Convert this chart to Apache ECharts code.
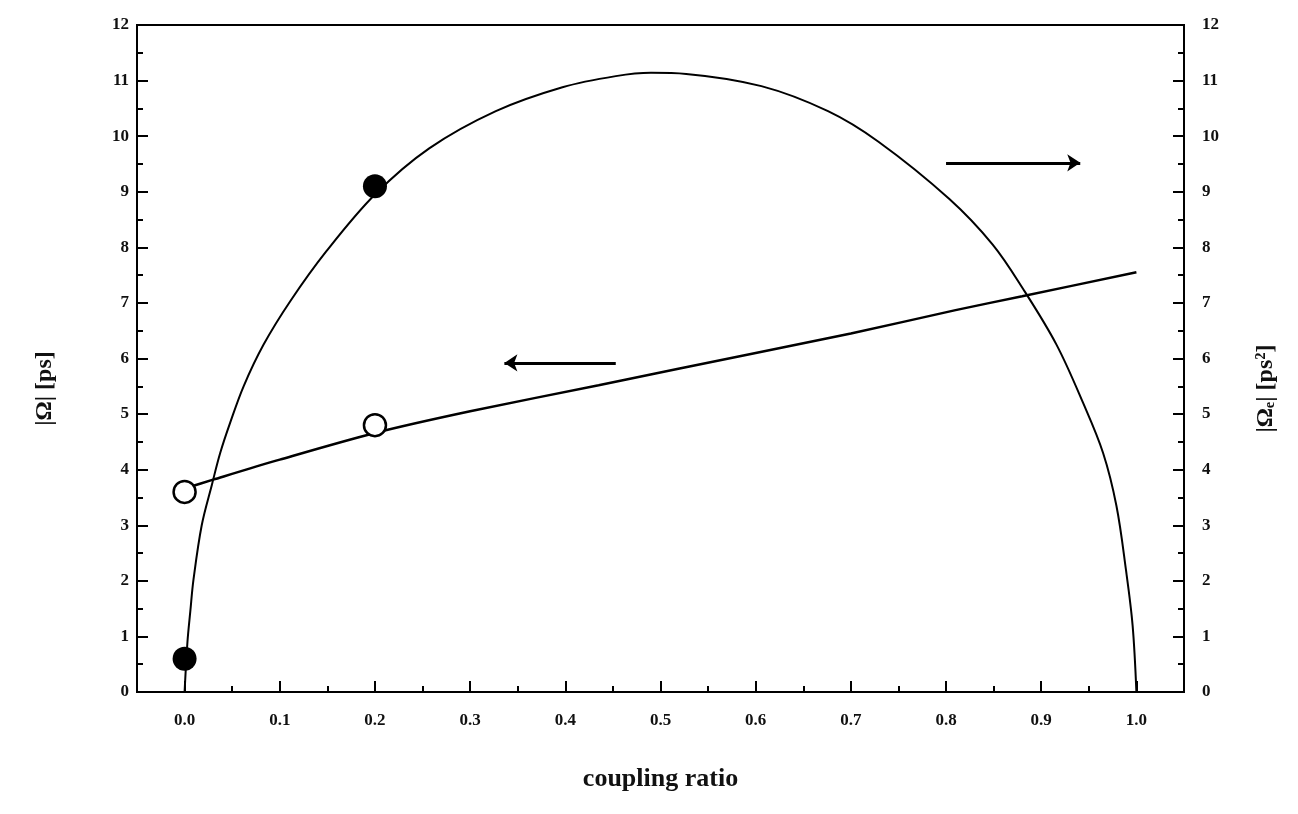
<!DOCTYPE html>
<html>
<head>
<meta charset="utf-8">
<title>coupling ratio</title>
<script src="https://cdn.jsdelivr.net/npm/echarts@6/dist/echarts.min.js"></script>
<style>
  html, body { margin: 0; padding: 0; background: #fff; }
  #chart { width: 1298px; height: 814px; }
</style>
</head>
<body>
<div id="chart"></div>
<script>
// values
var xTicks      = [0.0, 0.1, 0.2, 0.3, 0.4, 0.5, 0.6, 0.7, 0.8, 0.9, 1.0];
var xMinorTicks = [0.05, 0.15, 0.25, 0.35, 0.45, 0.55, 0.65, 0.75, 0.85, 0.95];

// |Omega_e| curve (right axis)
var curveX = [0.0, 0.003, 0.006, 0.0094, 0.018, 0.0287, 0.0374, 0.048, 0.062, 0.083, 0.111, 0.149, 0.2,
              0.257, 0.327, 0.397, 0.453, 0.49, 0.527, 0.606, 0.676, 0.729, 0.8035, 0.849, 0.881,
              0.916, 0.944, 0.965, 0.979, 0.989, 0.996, 1.0];
var curveY = [0.0, 0.9, 1.45, 2.03, 3.0, 3.73, 4.3, 4.85, 5.5, 6.25, 7.03, 7.93, 8.95,
              9.78, 10.45, 10.88, 11.08, 11.14, 11.12, 10.9, 10.45, 9.9, 8.87, 8.05, 7.25,
              6.25, 5.2, 4.3, 3.35, 2.2, 1.2, 0.0];

// |Omega| line (left axis)
var lineX = [0.0, 0.03, 0.1, 0.2, 0.3, 0.435, 0.6, 0.7, 0.81, 0.88, 1.0];
var lineY = [3.66, 3.82, 4.18, 4.66, 5.05, 5.52, 6.1, 6.45, 6.87, 7.12, 7.55];

// measured points
var filledX = [0.0, 0.2];
var filledY = [0.6, 9.1];
var openX   = [0.0, 0.2];
var openY   = [3.6, 4.8];

// arrows [x from, x to, y]
var arrowLeft  = [0.453, 0.336, 5.92];
var arrowRight = [0.80, 0.941, 9.52];

function zip(a, b) {
  var out = [];
  for(var i = 0; i < a.length; i++) out.push([a[i], b[i]]);
  return out;
}

var font = '"Liberation Serif", "DejaVu Serif", serif';

var chart = echarts.init(document.getElementById('chart'));

var yAxisBase = {
  type: 'value',
  min: 0,
  max: 12,
  interval: 1,
  splitLine: {show: false},
  axisLine: {show: true, onZero: false, lineStyle: {color: '#000', width: 2}},
  axisTick: {inside: true, length: 11, lineStyle: {color: '#000', width: 2}},
  minorTick: {show: true, splitNumber: 2, length: 6, lineStyle: {color: '#000', width: 2}},
  axisLabel: {color: '#111', fontFamily: font, fontSize: 17, fontWeight: 'bold'},
  nameLocation: 'middle',
  nameRotate: 90,
  nameTextStyle: {color: '#111', fontFamily: font, fontSize: 24, fontWeight: 'bold', padding: [0, 60, 0, 0]}
};

var option = {
  animation: false,
  backgroundColor: '#fff',
  grid: {
    left: 137, right: 114, top: 25, bottom: 122,
    show: true, borderColor: '#000', borderWidth: 2
  },
  xAxis: [
    {
      type: 'value',
      min: -0.05,
      max: 1.05,
      splitLine: {show: false},
      axisLine: {show: true, onZero: false, lineStyle: {color: '#000', width: 2}},
      axisTick: {inside: true, length: 11, customValues: xTicks, lineStyle: {color: '#000', width: 2}},
      axisLabel: {
        customValues: xTicks,
        margin: 20,
        color: '#111', fontFamily: font, fontSize: 17, fontWeight: 'bold',
        formatter: function(v) { return v.toFixed(1); }
      },
      name: 'coupling ratio',
      nameLocation: 'middle',
      nameGap: 74,
      nameTextStyle: {color: '#111', fontFamily: font, fontSize: 26, fontWeight: 'bold'}
    },
    {
      type: 'value',
      min: -0.05,
      max: 1.05,
      position: 'bottom',
      splitLine: {show: false},
      axisLine: {show: false, onZero: false},
      axisTick: {inside: true, length: 6, customValues: xMinorTicks, lineStyle: {color: '#000', width: 2}},
      axisLabel: {show: false}
    }
  ],
  yAxis: [
    Object.assign({}, yAxisBase, {position: 'left', name: '|Ω| [ps]', nameGap: 80}),
    Object.assign({}, yAxisBase, {
      position: 'right',
      name: '|Ωₑ| [ps²]',
      nameGap: 70,
      axisLabel: Object.assign({}, yAxisBase.axisLabel, {margin: 18})
    })
  ],
  series: [
    {
      name: 'curve',
      type: 'line',
      yAxisIndex: 1,
      data: zip(curveX, curveY),
      smooth: 0.35,
      showSymbol: false,
      lineStyle: {color: '#000', width: 2},
      markLine: {
        silent: true,
        symbol: ['none', 'arrow'],
        symbolSize: 13,
        label: {show: false},
        lineStyle: {color: '#000', width: 3, type: 'solid'},
        data: [
          [{coord: [arrowRight[0], arrowRight[2]]}, {coord: [arrowRight[1], arrowRight[2]]}]
        ]
      }
    },
    {
      name: 'line',
      type: 'line',
      yAxisIndex: 0,
      data: zip(lineX, lineY),
      smooth: 0.3,
      showSymbol: false,
      lineStyle: {color: '#000', width: 2.5},
      markLine: {
        silent: true,
        symbol: ['none', 'arrow'],
        symbolSize: 13,
        label: {show: false},
        lineStyle: {color: '#000', width: 3, type: 'solid'},
        data: [
          [{coord: [arrowLeft[0], arrowLeft[2]]}, {coord: [arrowLeft[1], arrowLeft[2]]}]
        ]
      }
    },
    {
      name: 'filled',
      type: 'scatter',
      yAxisIndex: 1,
      data: zip(filledX, filledY),
      symbol: 'circle',
      symbolSize: 24,
      itemStyle: {color: '#000', opacity: 1},
      z: 5
    },
    {
      name: 'open',
      type: 'scatter',
      yAxisIndex: 0,
      data: zip(openX, openY),
      symbol: 'circle',
      symbolSize: 22,
      itemStyle: {color: '#fff', borderColor: '#000', borderWidth: 2.5, opacity: 1},
      z: 5
    }
  ]
};

chart.setOption(option);
</script>
</body>
</html>
